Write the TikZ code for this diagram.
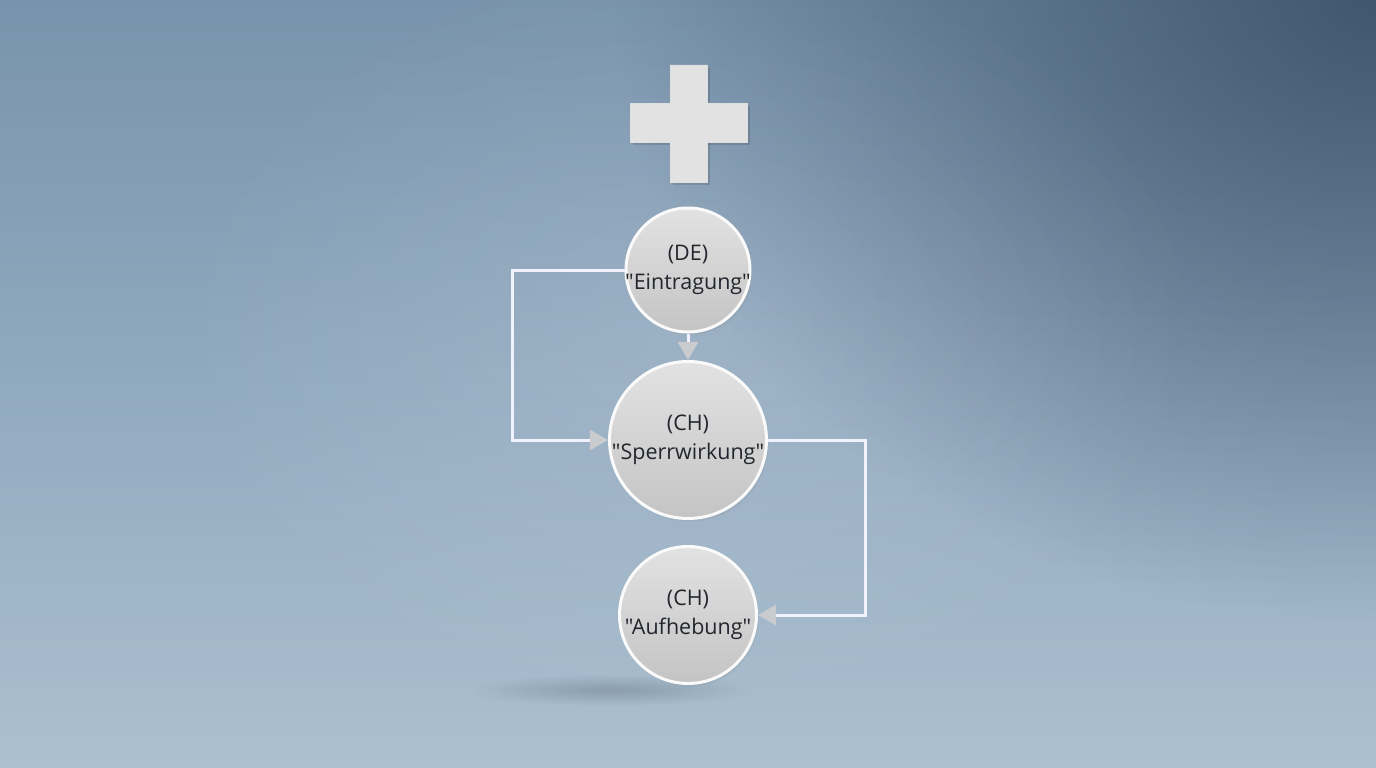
\documentclass[tikz,border=0pt]{standalone}
\usepackage{fontspec}
\setmainfont{Open Sans}[Ligatures=TeXOff]
\usetikzlibrary{arrows.meta,fadings,shadows}
\definecolor{bgtop}{HTML}{7893AD}
\definecolor{bgbot}{HTML}{ABC0D0}
\definecolor{bgdark}{HTML}{33465F}
\definecolor{circlight}{HTML}{E2E2E2}
\definecolor{circdark}{HTML}{C4C4C4}
\definecolor{tipgray}{HTML}{C9CBCE}
\definecolor{txt}{HTML}{23272D}
\definecolor{plusfill}{HTML}{E2E2E2}
\tikzfading[name=radfade, inner color=transparent!0, outer color=transparent!100]
\tikzset{
  stage/.style={circle, draw=white!96!gray, line width=3pt, inner sep=-12pt,
    top color=circlight, bottom color=circdark, text=txt, align=center,
    font=\fontsize{21.5}{29}\selectfont, drop shadow={shadow xshift=2pt, shadow yshift=-3pt, opacity=0.15}},
  link/.style={draw=white!95!blue, line width=3pt,
    -{Triangle[width=20pt,length=18pt,color=tipgray,fill=tipgray]}},
  plusbar/.style={fill=plusfill, draw=white!75!gray, line width=0.8pt}
}
\begin{document}
\begin{tikzpicture}[x=1pt,y=-1pt]
\useasboundingbox (0,0) rectangle (1376,768);
% background
\shade[top color=bgtop, bottom color=bgbot] (0,0) rectangle (1376,768);
\fill[bgdark, opacity=0.8, path fading=radfade] (1376,0) ellipse (760pt and 620pt);
\fill[white, opacity=0.12, path fading=radfade] (688,330) ellipse (520pt and 380pt);
% plus
\fill[black, opacity=0.12] (673,68) rectangle (710,185);
\fill[black, opacity=0.12] (633,106) rectangle (750,145);
\path[plusbar] (630,103) -- (670,103) -- (670,65) -- (707,65) -- (707,103) -- (747,103)
  -- (747,142) -- (707,142) -- (707,182) -- (670,182) -- (670,142) -- (630,142) -- cycle;
% ground shadow
\fill[black, opacity=0.16, path fading=radfade] (610,690) ellipse (140pt and 16pt);
% nodes
\node[stage, minimum size=124pt] (de) at (688,270) {(DE)\\"Eintragung"};
\node[stage, minimum size=157pt] (sp) at (688,440) {(CH)\\"Sperrwirkung"};
\node[stage, minimum size=137pt] (au) at (688,615) {(CH)\\"Aufhebung"};
\coordinate (lx) at (512,0);
\coordinate (rx) at (865,0);
% connectors
\draw[link] (de.south) -- (sp.north);
\draw[link] (de.west) -- (de.west -| lx) -- (sp.west -| lx) -- (sp.west);
\draw[link] (sp.east) -- (sp.east -| rx) -- (au.east -| rx) -- (au.east);
\end{tikzpicture}
\end{document}
